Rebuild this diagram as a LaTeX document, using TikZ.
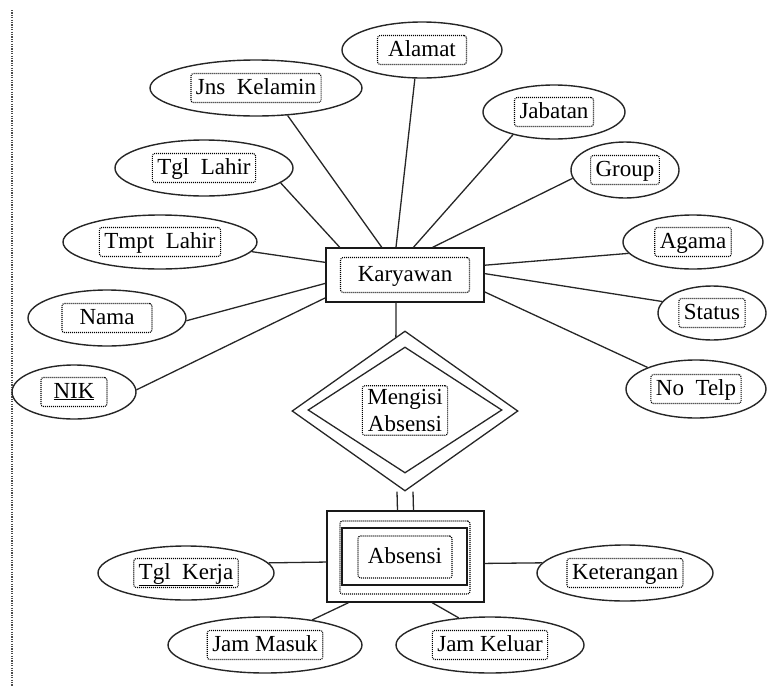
\documentclass[tikz,border=0pt]{standalone}
\usepackage{fontspec}
\setmainfont{Liberation Serif}
\usetikzlibrary{shapes.geometric}

\tikzset{
  attr/.style = {ellipse, draw=black!85, line width=1.4pt},
  entity/.style = {rectangle, draw=black!90, line width=1.4pt},
  relship/.style = {diamond, draw=black!85, line width=1.3pt},
  txtbox/.style = {draw, line width=1.1pt, dash pattern=on 1pt off 1pt,
    rounded corners=2.5pt, inner xsep=5pt, inner ysep=3.5pt},
  txt/.style = {txtbox, text height=17pt, text depth=5pt},
  link/.style = {draw=black!85, line width=1.3pt}
}

\begin{document}
\begin{tikzpicture}[x=1pt, y=-1pt, font=\fontsize{23}{25}\selectfont]
\useasboundingbox (0,0) rectangle (769,686);
% garis tepi kiri
\draw[line width=1.5pt, dash pattern=on 1.2pt off 1.2pt, black!70] (12,10) -- (12,686);

% entitas Karyawan
\node[entity, minimum width=158, minimum height=54] (kary) at (405,275) {};
\node[txt, minimum width=129, minimum height=35] (kary-t) at (kary) {Karyawan};

% atribut Karyawan
\node[attr, minimum width=212, minimum height=56] (jns) at (256,88) {};
\node[txt] (jns-t) at (jns) {Jns\ \ Kelamin};
\node[attr, minimum width=160, minimum height=56] (alamat) at (422,50) {};
\node[txt, minimum width=89] (alamat-t) at (alamat) {Alamat};
\node[attr, minimum width=142, minimum height=54] (jabatan) at (554,112) {};
\node[txt] (jabatan-t) at (jabatan) {Jabatan};
\node[attr, minimum width=108, minimum height=56] (group) at (625,170) {};
\node[txt] (group-t) at (group) {Group};
\node[attr, minimum width=178, minimum height=56] (tgl) at (204,168) {};
\node[txt] (tgl-t) at (tgl) {Tgl\ \ Lahir};
\node[attr, minimum width=194, minimum height=54] (tmpt) at (160,242) {};
\node[txt] (tmpt-t) at (tmpt) {Tmpt\ \ Lahir};
\node[attr, minimum width=140, minimum height=54] (agama) at (693,242) {};
\node[txt] (agama-t) at (agama) {Agama};
\node[attr, minimum width=158, minimum height=56] (nama) at (107,318) {};
\node[txt, minimum width=90] (nama-t) at (nama) {Nama};
\node[attr, minimum width=108, minimum height=54] (status) at (712,313) {};
\node[txt] (status-t) at (status) {Status};
\node[attr, minimum width=124, minimum height=54] (nik) at (74,392) {};
\node[txt, minimum width=66] (nik-t) at (nik) {\underline{NIK}};
\node[attr, minimum width=140, minimum height=58] (notelp) at (696,389) {};
\node[txt] (notelp-t) at (notelp) {No\ \ Telp};

% relasi Mengisi Absensi
\node[relship, minimum width=226, minimum height=160] (isi) at (405,411) {};
\node[relship, minimum width=194, minimum height=126] (isi-in) at (405,410) {};
\node[txtbox, align=center, minimum width=80, font=\fontsize{23}{27}\selectfont]
  (isi-t) at (405,410.5) {Mengisi\\Absensi};

% entitas lemah Absensi
\node[entity, minimum width=157, minimum height=91] (abs) at (405.5,556.5) {};
\node[txtbox, minimum width=130, minimum height=73] (abs-d) at (405,557.5) {};
\node[entity, line width=2.4pt, minimum width=125, minimum height=57] (abs-in) at (404.5,556.5) {};
\node[txt, minimum width=94, minimum height=42] (abs-t) at (405,557) {Absensi};

% atribut Absensi
\node[attr, minimum width=176, minimum height=54] (tglkerja) at (186,573) {};
\node[txt, minimum width=100] (tglkerja-t) at (tglkerja) {\underline{Tgl\ \ Kerja}};
\node[attr, minimum width=176, minimum height=56] (ket) at (625,573) {};
\node[txt] (ket-t) at (ket) {Keterangan};
\node[attr, minimum width=194, minimum height=56] (masuk) at (265,645) {};
\node[txt] (masuk-t) at (masuk) {Jam Masuk};
\node[attr, minimum width=188, minimum height=56] (keluar) at (490,645) {};
\node[txt] (keluar-t) at (keluar) {Jam Keluar};

% garis penghubung
\path[link]
  (jns.-41) edge (kary.130)
  (alamat.-104) edge (kary.108)
  (jabatan.-151) edge (kary.73)
  (group.-171) edge (kary.45)
  (tgl.-11) edge (kary.157)
  (tmpt.-6) edge (kary.171)
  (nama.-2) edge (kary.-174)
  (nik.2) edge (kary.-164)
  (agama.-170) edge (kary.7)
  (status.167) edge (kary.1)
  (notelp.156) edge (kary.-12)
  (kary.-108) edge (isi.97)
  ([xshift=-8pt]isi.south) edge ([xshift=-8pt]abs.north)
  ([xshift=8pt]isi.south) edge ([xshift=8pt]abs.north)
  (tglkerja.7) edge (abs.-176)
  (ket.173) edge (abs.-5)
  (masuk.28) edge (abs.-141)
  (keluar.139) edge (abs.-60);
\end{tikzpicture}
\end{document}
